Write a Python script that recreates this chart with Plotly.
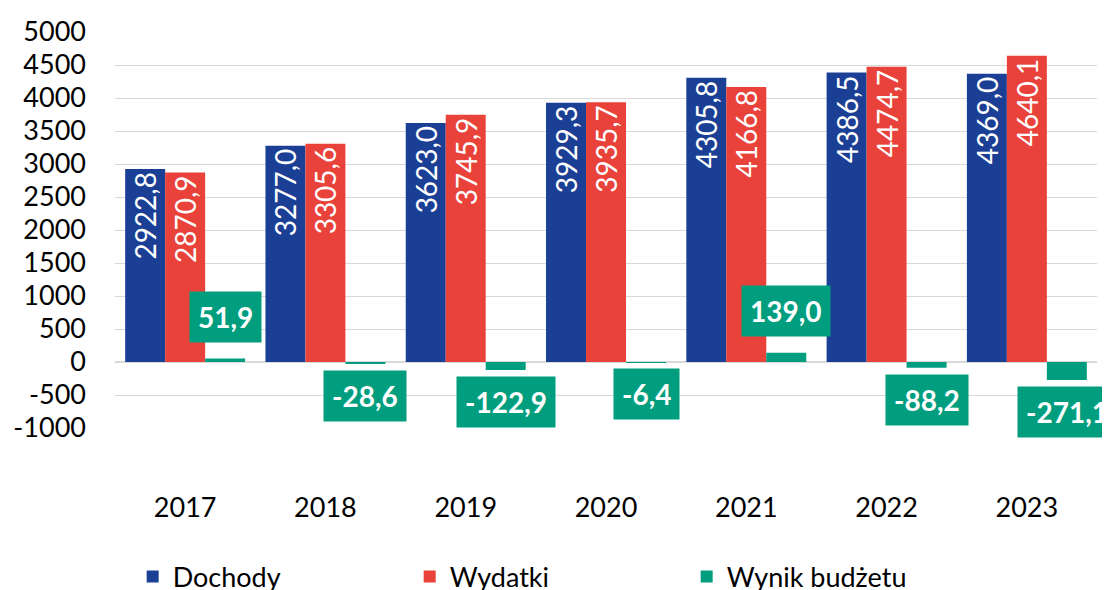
import plotly.graph_objects as go

years = ["2017", "2018", "2019", "2020", "2021", "2022", "2023"]
dochody = [2922.8, 3277.0, 3623.0, 3929.3, 4305.8, 4386.5, 4369.0]
wydatki = [2870.9, 3305.6, 3745.9, 3935.7, 4166.8, 4474.7, 4640.1]
wynik = [51.9, -28.6, -122.9, -6.4, 139.0, -88.2, -271.1]
y_ticks = [-1000, -500, 0, 500, 1000, 1500, 2000, 2500, 3000, 3500, 4000, 4500, 5000]
y_tick_labels = [str(t) for t in y_ticks]

BLUE = "#1B3F94"
RED = "#E8423A"
TEAL = "#009E7E"
FONT = "Lato"


def fmt(v):
    return f"{v:.1f}".replace(".", ",")


fig = go.Figure()
for name, vals, col in [("Dochody", dochody, BLUE), ("Wydatki", wydatki, RED)]:
    fig.add_trace(go.Bar(
        x=years, y=vals, name=name, marker=dict(color=col, line=dict(width=0)),
        text=[fmt(v) for v in vals], textposition="inside", textangle=-90,
        insidetextanchor="end", textfont=dict(color="white", size=28, family=FONT),
    ))
fig.add_trace(go.Bar(
    x=years, y=wynik, name="Wynik budżetu", marker=dict(color=TEAL, line=dict(width=0)),
))

for i, v in enumerate(wynik):
    fig.add_annotation(
        x=i, y=v, xref="x", yref="y", text=f"<b>{fmt(v)}</b>", showarrow=False,
        xshift=40, yanchor="bottom" if v > 0 else "top", yshift=16 if v > 0 else -6,
        bgcolor=TEAL, borderpad=8, font=dict(color="white", size=28, family=FONT),
    )

fig.update_layout(
    width=1110, height=616,
    margin=dict(l=107, r=21, t=24, b=196),
    paper_bgcolor="white", plot_bgcolor="white",
    barmode="group", bargap=0.145, bargroupgap=0,
    font=dict(family=FONT, size=27, color="black"),
    showlegend=True,
    legend=dict(orientation="h", x=0.018, xanchor="left", y=-0.376, yanchor="middle",
                entrywidth=232, entrywidthmode="pixels", font=dict(size=27),
                itemsizing="constant", traceorder="normal"),
    xaxis=dict(type="category", categoryorder="array", categoryarray=years,
               range=[-0.5, len(years) - 0.5], autorange=False, automargin=False,
               showgrid=False, showline=False, ticks="",
               ticklabelstandoff=61, tickfont=dict(size=27)),
    yaxis=dict(range=[-1000, 5000], autorange=False, automargin=False,
               tickvals=y_ticks, ticktext=y_tick_labels,
               showgrid=True, gridcolor="#D9D9D9",
               gridwidth=1, zeroline=True, zerolinecolor="#D9D9D9", zerolinewidth=1.5,
               showline=False, ticks="", ticklabelstandoff=28, tickfont=dict(size=27)),
)

fig.write_html("out.html")
